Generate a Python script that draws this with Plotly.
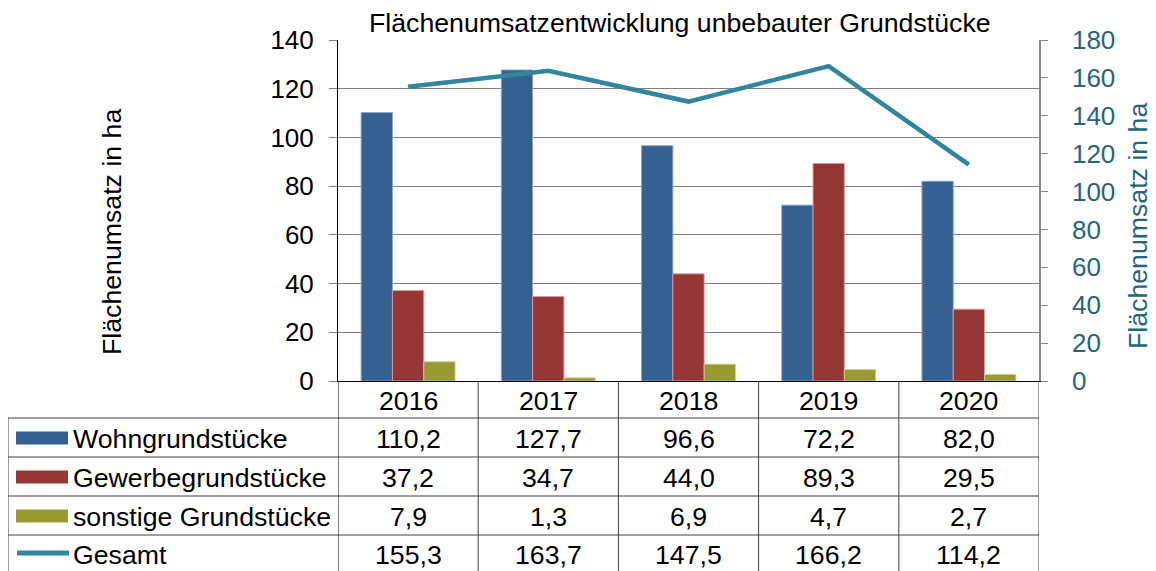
import plotly.graph_objects as go

# ---- data ----
years = ["2016", "2017", "2018", "2019", "2020"]
wohn = [110.2, 127.7, 96.6, 72.2, 82.0]
gewerbe = [37.2, 34.7, 44.0, 89.3, 29.5]
sonstige = [7.9, 1.3, 6.9, 4.7, 2.7]
gesamt = [155.3, 163.7, 147.5, 166.2, 114.2]
series_names = ["Wohngrundstücke", "Gewerbegrundstücke", "sonstige Grundstücke", "Gesamt"]
title_text = "Flächenumsatzentwicklung unbebauter Grundstücke"
axis_title = "Flächenumsatz in ha"

# ---- style ----
W, H = 1156, 571
OFF = 8  # page body margin
L, R, T, B = 338, 1039, 40, 381  # plot area in window pixels
FONT = "Arial, Liberation Sans, sans-serif"
FS = 26.7
FS_TICK = 26
C_BLUE, C_RED, C_OLIVE, C_TEAL = "#376092", "#953735", "#999933", "#31859C"
C_TEAL_TXT = "#276578"
C_GRID = "#7f7f7f"
C_TAB = "#404040"


def fx(p):
    return (p - L) / (R - L)


def fy(p):
    return (B - p) / (B - T)


def de(v):
    return f"{v:.1f}".replace(".", ",")


fig = go.Figure()
bar_series = [(wohn, C_BLUE, "rgba(140,165,200,0.9)"),
              (gewerbe, C_RED, "rgba(215,160,160,0.9)"),
              (sonstige, C_OLIVE, "rgba(210,210,140,0.9)")]
for (vals, col, edge), name in zip(bar_series, series_names[:3]):
    fig.add_trace(go.Bar(x=years, y=vals, name=name, marker_color=col,
                         marker_line=dict(color=edge, width=1)))
fig.add_trace(go.Scatter(x=years, y=gesamt, name=series_names[3], yaxis="y2",
                         mode="lines", line=dict(color=C_TEAL, width=4.5),
                         cliponaxis=False))

shapes = []
annotations = []


def txt(text, x, y, xref="paper", size=FS, color="black", xanchor="center", angle=0):
    annotations.append(dict(text=text, xref=xref, yref="paper", x=x, y=y,
                            xanchor=xanchor, yanchor="middle", textangle=angle,
                            showarrow=False, font=dict(size=size, color=color, family=FONT)))


# white box behind title (interrupts top gridline)
shapes.append(dict(type="rect", xref="paper", yref="paper", x0=fx(363), x1=fx(1001),
                   y0=fy(45), y1=fy(34), fillcolor="white", line_width=0, layer="above"))
txt(title_text, fx(680), fy(23))

# axis titles
txt(axis_title, fx(112), fy(232), angle=-90)
txt(axis_title, fx(1138), fy(226), color=C_TEAL_TXT, angle=-90)

# ---- data table ----
rows = [418, 457, 496, 535, 590]
row_centers = [401, 439, 478, 517, 555]
for yy in rows[:-1]:
    shapes.append(dict(type="line", xref="paper", yref="paper", x0=fx(8), x1=1,
                       y0=fy(yy), y1=fy(yy), line=dict(color=C_TAB, width=1), layer="above"))
shapes.append(dict(type="line", xref="paper", yref="paper", x0=fx(8), x1=fx(8),
                   y0=fy(418), y1=fy(590), line=dict(color=C_TAB, width=1)))
for i in range(len(years) + 1):
    shapes.append(dict(type="line", xref="x", yref="paper", x0=i - 0.5, x1=i - 0.5,
                       y0=0, y1=fy(590),
                       line=dict(color="black" if i == 0 else C_TAB, width=1)))

for i, yr in enumerate(years):
    txt(yr, i, fy(row_centers[0]), xref="x")
all_vals = [wohn, gewerbe, sonstige, gesamt]
for r, vals in enumerate(all_vals):
    yc = row_centers[r + 1]
    for i, v in enumerate(vals):
        txt(de(v), i, fy(yc), xref="x")
    txt(series_names[r], fx(71), fy(yc), xanchor="left")
for r, col in enumerate([C_BLUE, C_RED, C_OLIVE]):
    yc = row_centers[r + 1] - 1
    shapes.append(dict(type="rect", xref="paper", yref="paper", x0=fx(16), x1=fx(68),
                       y0=fy(yc + 6.5), y1=fy(yc - 6.5), fillcolor=col, line_width=0))
shapes.append(dict(type="line", xref="paper", yref="paper", x0=fx(17), x1=fx(69),
                   y0=fy(row_centers[4] - 2), y1=fy(row_centers[4] - 2),
                   line=dict(color=C_TEAL, width=5)))

fig.update_layout(
    width=W, height=H, autosize=False,
    margin=dict(l=L - OFF, r=W - (R - OFF), t=T - OFF, b=H - (B - OFF), pad=0),
    paper_bgcolor="white", plot_bgcolor="white",
    font=dict(family=FONT, size=FS, color="black"),
    showlegend=False,
    barmode="group", bargap=0.33, bargroupgap=0,
    xaxis=dict(type="category", range=[-0.5, 4.5], showticklabels=False, ticks="",
               showline=True, linecolor="black", linewidth=1, showgrid=False, zeroline=False),
    yaxis=dict(range=[0, 140], dtick=20, showgrid=True, gridcolor=C_GRID, gridwidth=1,
               showline=True, linecolor="black", linewidth=1, ticks="outside", ticklen=8,
               tickcolor="#808080", zeroline=False, ticklabelstandoff=10,
               tickfont=dict(size=FS_TICK, color="black", family=FONT)),
    yaxis2=dict(range=[0, 180], dtick=20, overlaying="y", side="right", showgrid=False,
                showline=True, linecolor="#868686", linewidth=1.5, ticks="outside", ticklen=7,
                tickcolor="#868686", zeroline=False, ticklabelstandoff=19,
                tickfont=dict(size=FS_TICK, color=C_TEAL_TXT, family=FONT)),
    shapes=shapes,
    annotations=annotations,
)

fig.write_html("out.html")
